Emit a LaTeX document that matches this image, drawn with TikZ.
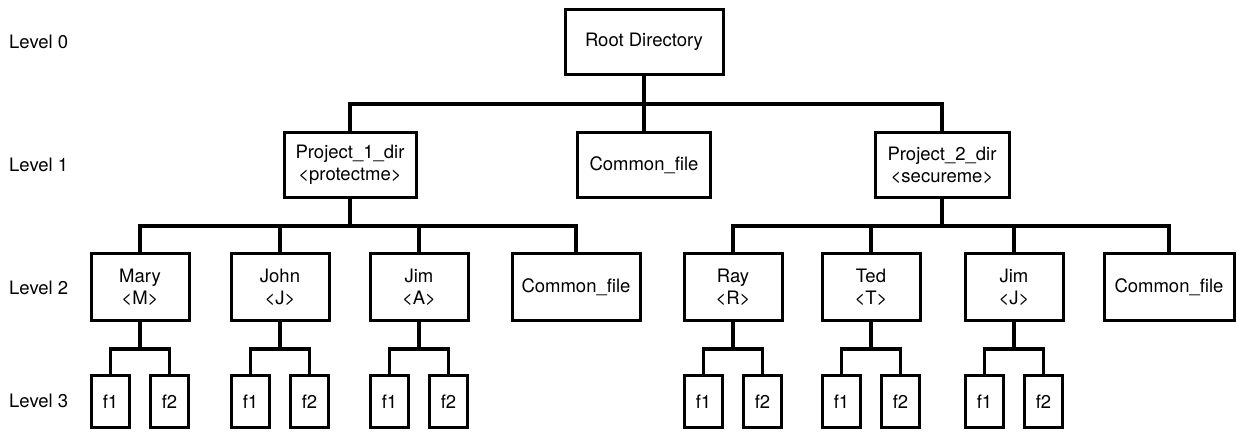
\documentclass[tikz,border=0pt]{standalone}
\usepackage{fontspec}
\setmainfont{TeX Gyre Heros}
\usepackage{tikz}
\usetikzlibrary{calc}

\tikzset{
  txt/.style={font=\fontsize{18.5}{22}\selectfont},
  dirbox/.style={txt,draw,line width=3pt,align=center,inner sep=0pt,minimum height=65pt},
  userbox/.style={dirbox,minimum width=98pt,minimum height=67pt},
  filebox/.style={txt,draw,line width=3pt,inner sep=0pt,minimum width=38pt,minimum height=52pt},
  link/.style={line width=3.2pt}
}

\begin{document}
\begin{tikzpicture}[x=1pt,y=-1pt]
	\useasboundingbox (0,0) rectangle (1237,434);
	
	% levels on the left
	\foreach \n/\y in {0/42,1/165,2/288,3/401}
	\node[txt,anchor=west,inner sep=0pt] (lev\n) at (9,\y) {Level \n};
	
	\coordinate (bus0) at (0,104);
	\coordinate (bus1) at (0,226);
	\coordinate (bus2) at (0,349);
	
	% level 0 and 1
	\node[dirbox,minimum width=158pt] (root) at (644,42) {Root Directory};
	\node[dirbox,minimum width=132pt] (proj1) at (350,165) {Project\_1\_dir\\<protectme>};
	\node[dirbox,minimum width=133pt] (common0) at (644,165) {Common\_file};
	\node[dirbox,minimum width=134pt] (proj2) at (942,165) {Project\_2\_dir\\<secureme>};
	
	\draw[link] (root.south) -- (root.south |- bus0);
	\foreach \c in {proj1,common0,proj2}
	\draw[link] (root.south |- bus0) -| (\c.north);
	
	% level 2
	\foreach \u/\x/\t/\k in {mary/140/Mary/M,john/280/John/J,jima/419/Jim/A,ray/733/Ray/R,ted/871/Ted/T,jimj/1014/Jim/J}
	\node[userbox] (\u) at (\x,287) {\t\\<\k>};
	\node[dirbox,minimum width=128pt,minimum height=67pt] (common1) at (576,287) {Common\_file};
	\node[dirbox,minimum width=130pt,minimum height=67pt] (common2) at (1169,287) {Common\_file};
	
	\draw[link] (proj1.south) -- (proj1.south |- bus1);
	\foreach \c in {mary,john,jima,common1}
	\draw[link] (proj1.south |- bus1) -| (\c.north);
	\draw[link] (proj2.south) -- (proj2.south |- bus1);
	\foreach \c in {ray,ted,jimj,common2}
	\draw[link] (proj2.south |- bus1) -| (\c.north);
	
	% level 3: two files under each user
	\foreach \u in {mary,john,jima,ray,ted,jimj}{
		\node[filebox] (\u-f1) at ($(\u)+(-29.5,114.5)$) {f1};
		\node[filebox] (\u-f2) at ($(\u)+(29.5,114.5)$) {f2};
		\draw[link] (\u.south) -- (\u.south |- bus2) -| (\u-f1.north);
		\draw[link] (\u.south |- bus2) -| (\u-f2.north);
	}
\end{tikzpicture}
\end{document}
